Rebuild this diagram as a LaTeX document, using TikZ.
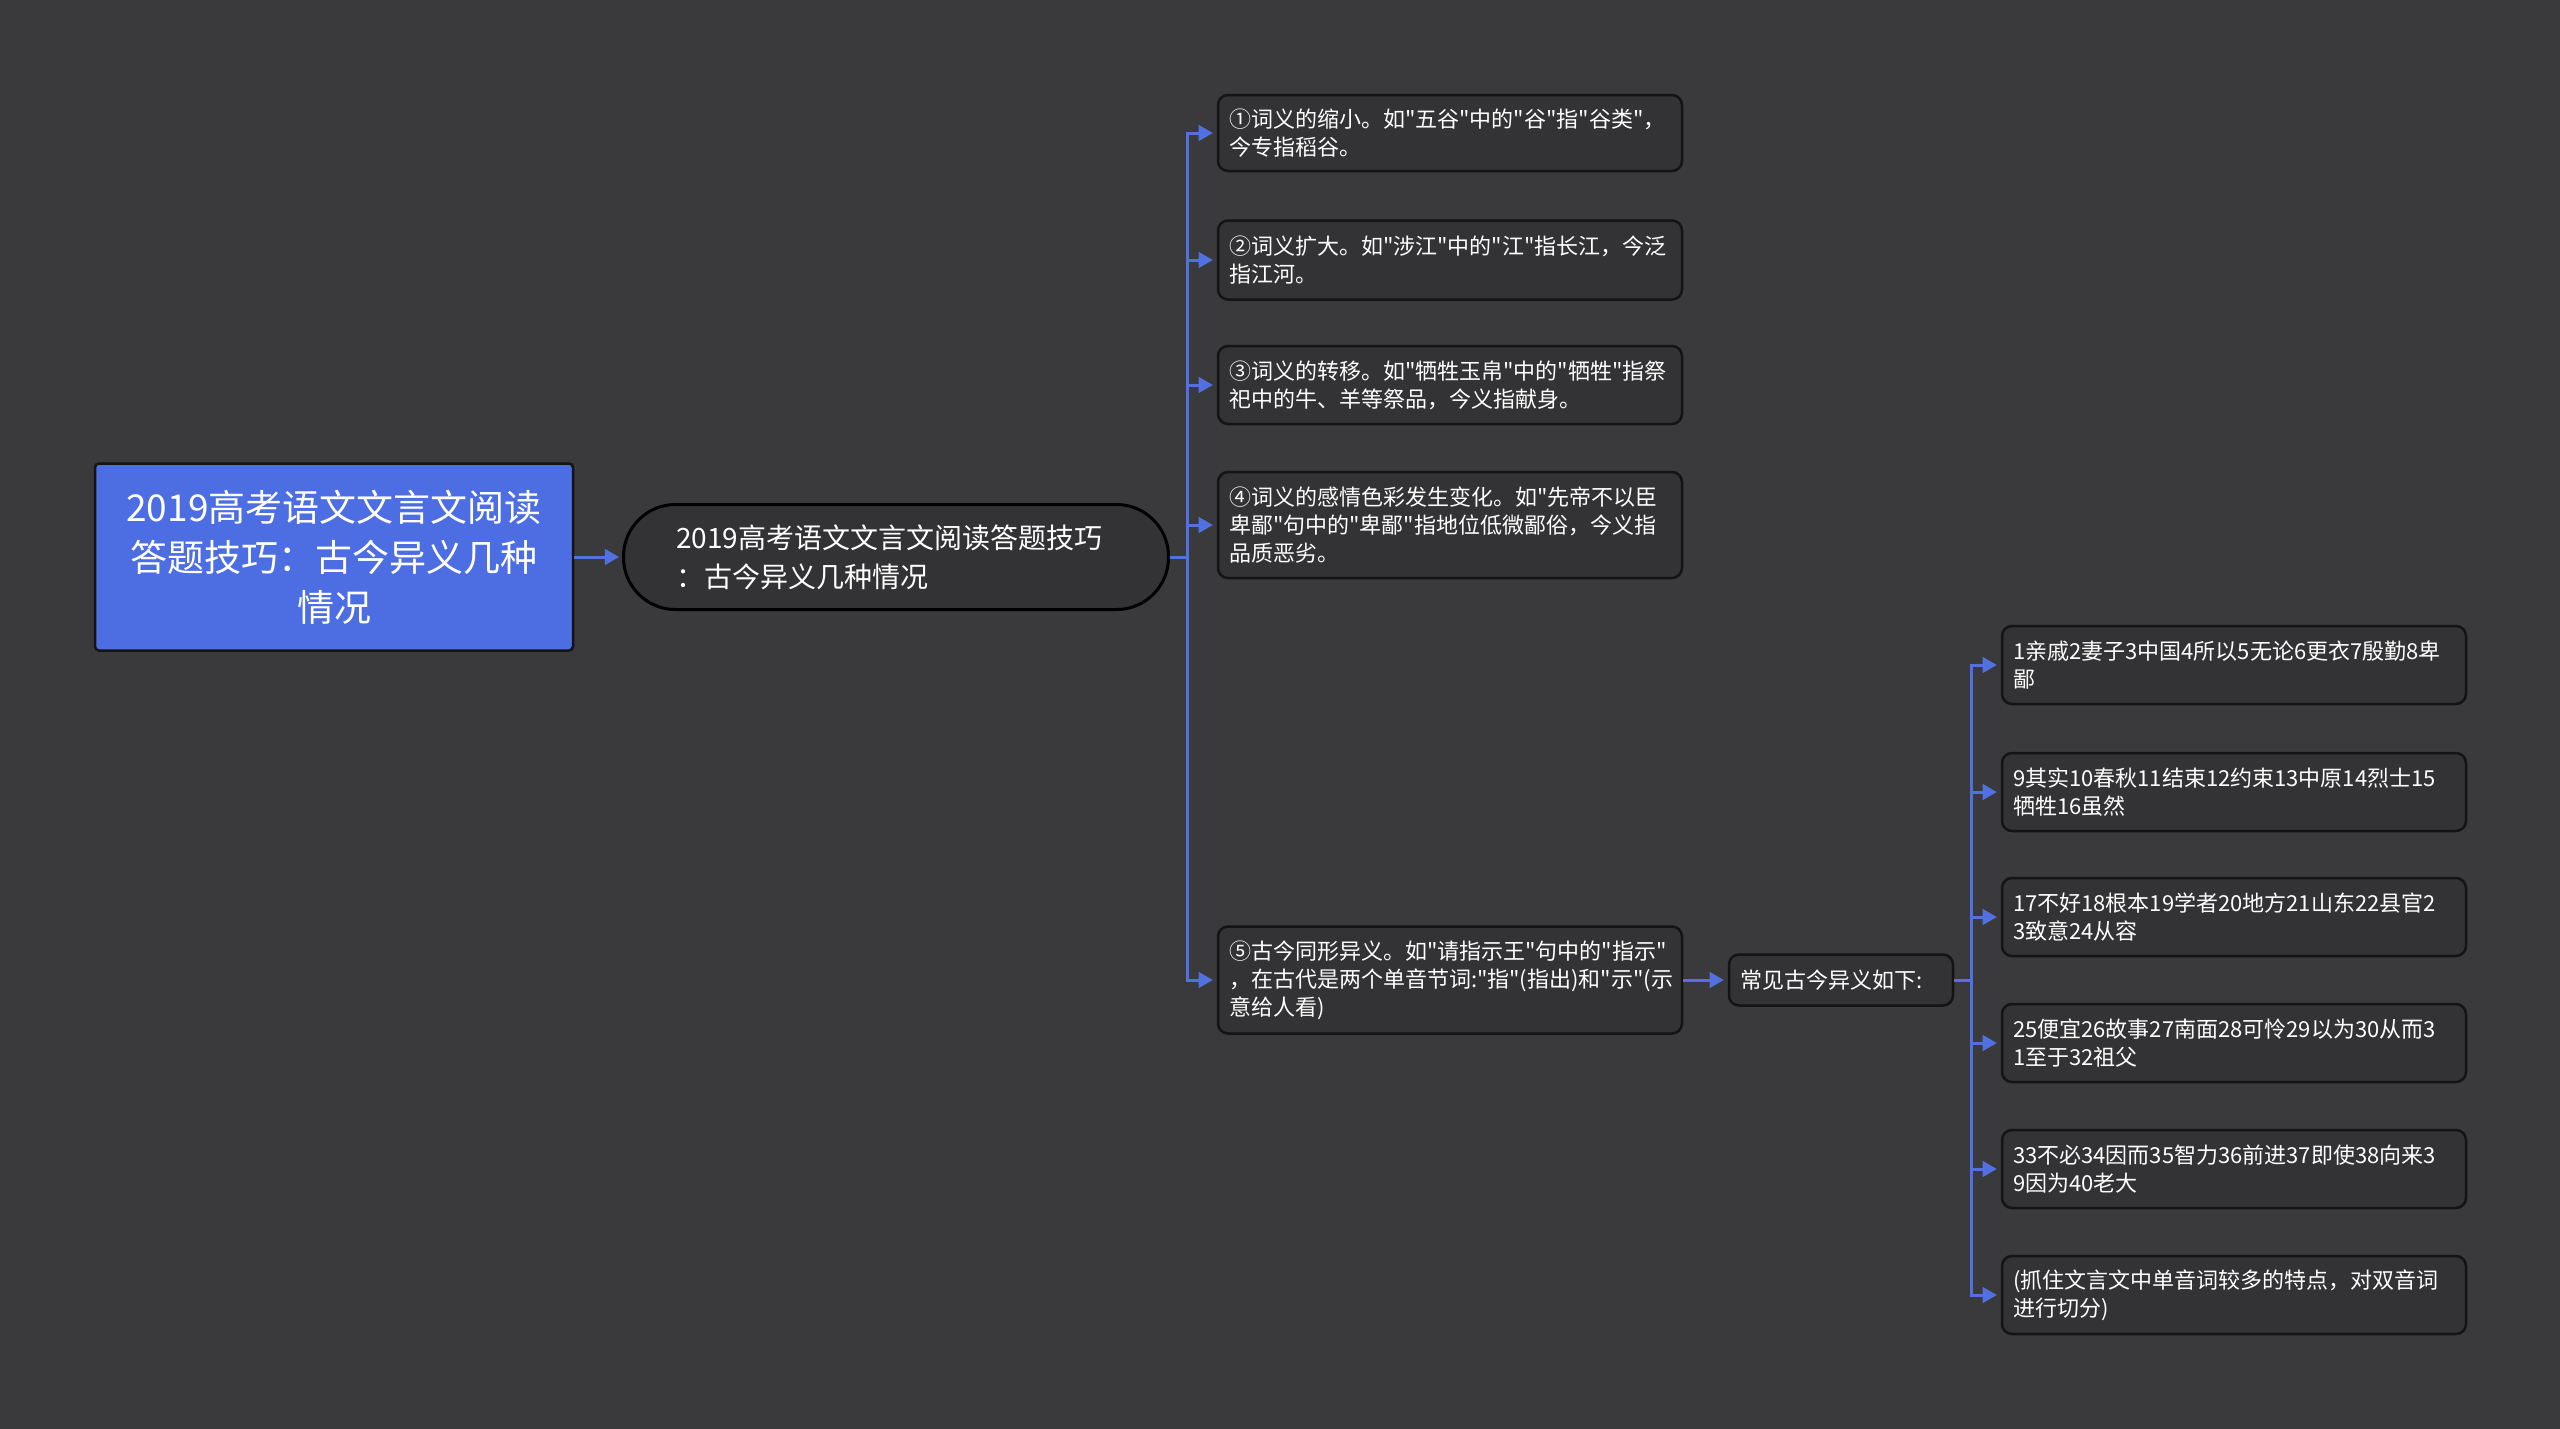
\documentclass[tikz,border=0pt]{standalone}
\usepackage{fontspec}
\setmainfont{Noto Sans CJK SC}[Ligatures=TeXOff]
\usetikzlibrary{arrows}

\definecolor{bgcol}{HTML}{3A393B}
\definecolor{boxcol}{HTML}{333234}
\definecolor{rootcol}{HTML}{4C6EE2}
\definecolor{linkcol}{HTML}{5171E0}
\definecolor{edgecol}{HTML}{141414}

\begin{document}
\begin{tikzpicture}[x=1pt,y=-1pt,>=triangle 60,
  root/.style={draw=edgecol, line width=2.5pt, fill=rootcol, rounded corners=4pt,
    text=white, font=\fontsize{37}{50}\selectfont, align=center,
    minimum width=478pt, minimum height=187pt, inner sep=0pt},
  topic/.style={draw=black, line width=3pt, fill=boxcol, rounded corners=52pt,
    text=white, font=\fontsize{28}{39}\selectfont, align=left, text width=440pt,
    minimum width=545pt, minimum height=105pt, inner xsep=52pt, inner ysep=0pt},
  leaf/.style={draw=edgecol, line width=2.5pt, fill=boxcol, rounded corners=10pt,
    text=white, font=\fontsize{22}{28}\selectfont, align=left, text width=442pt,
    minimum width=464pt, inner xsep=11pt, inner ysep=0pt},
  link/.style={draw=linkcol, line width=3pt}]

  \fill[bgcol] (0,0) rectangle (2560,1429);
  \useasboundingbox (0,0) rectangle (2560,1429);

  % centre and first branch
  \node[root] (root) at (334,557) {2019高考语文文言文阅读\\答题技巧：古今异义几种\\情况};
  \node[topic] (sub) at (896,557) {2019高考语文文言文阅读答题技巧\\：古今异义几种情况};

  % five kinds
  \node[leaf, minimum height=76pt] (k1) at (1450,133) {①词义的缩小。如"五谷"中的"谷"指"谷类"，\\今专指稻谷。};
  \node[leaf, minimum height=79pt] (k2) at (1450,260) {②词义扩大。如"涉江"中的"江"指长江，今泛\\指江河。};
  \node[leaf, minimum height=78pt] (k3) at (1450,385) {③词义的转移。如"牺牲玉帛"中的"牺牲"指祭\\祀中的牛、羊等祭品，今义指献身。};
  \node[leaf, minimum height=106pt] (k4) at (1450,525) {④词义的感情色彩发生变化。如"先帝不以臣\\卑鄙"句中的"卑鄙"指地位低微鄙俗，今义指\\品质恶劣。};
  \node[leaf, minimum height=107pt] (k5) at (1450,980) {⑤古今同形异义。如"请指示王"句中的"指示"\\，在古代是两个单音节词:"指"(指出)和"示"(示\\意给人看)};

  \node[leaf, text width=202pt, minimum width=224pt, minimum height=51pt] (list) at (1841,980) {常见古今异义如下:};

  % word list
  \node[leaf, minimum height=78pt] (w1) at (2234,665) {1亲戚2妻子3中国4所以5无论6更衣7殷勤8卑\\鄙};
  \node[leaf, minimum height=78pt] (w2) at (2234,792) {9其实10春秋11结束12约束13中原14烈士15\\牺牲16虽然};
  \node[leaf, minimum height=78pt] (w3) at (2234,917) {17不好18根本19学者20地方21山东22县官2\\3致意24从容};
  \node[leaf, minimum height=78pt] (w4) at (2234,1043) {25便宜26故事27南面28可怜29以为30从而3\\1至于32祖父};
  \node[leaf, minimum height=78pt] (w5) at (2234,1169) {33不必34因而35智力36前进37即使38向来3\\9因为40老大};
  \node[leaf, minimum height=78pt] (w6) at (2234,1295) {(抓住文言文中单音词较多的特点，对双音词\\进行切分)};

  \coordinate (j1) at (1187,557);
  \coordinate (j2) at (1971,980);

  \draw[link,->,shorten >=3pt] (root.east) -- (sub.west);
  \draw[link] (sub.east) -- (j1);
  \foreach \k in {k1,k2,k3,k4,k5}
    \draw[link,->,shorten >=4pt] (j1) |- (\k.west);
  \draw[link,->,shorten >=4pt] (k5.east) -- (list.west);
  \draw[link] (list.east) -- (j2);
  \foreach \w in {w1,w2,w3,w4,w5,w6}
    \draw[link,->,shorten >=4pt] (j2) |- (\w.west);
\end{tikzpicture}
\end{document}
